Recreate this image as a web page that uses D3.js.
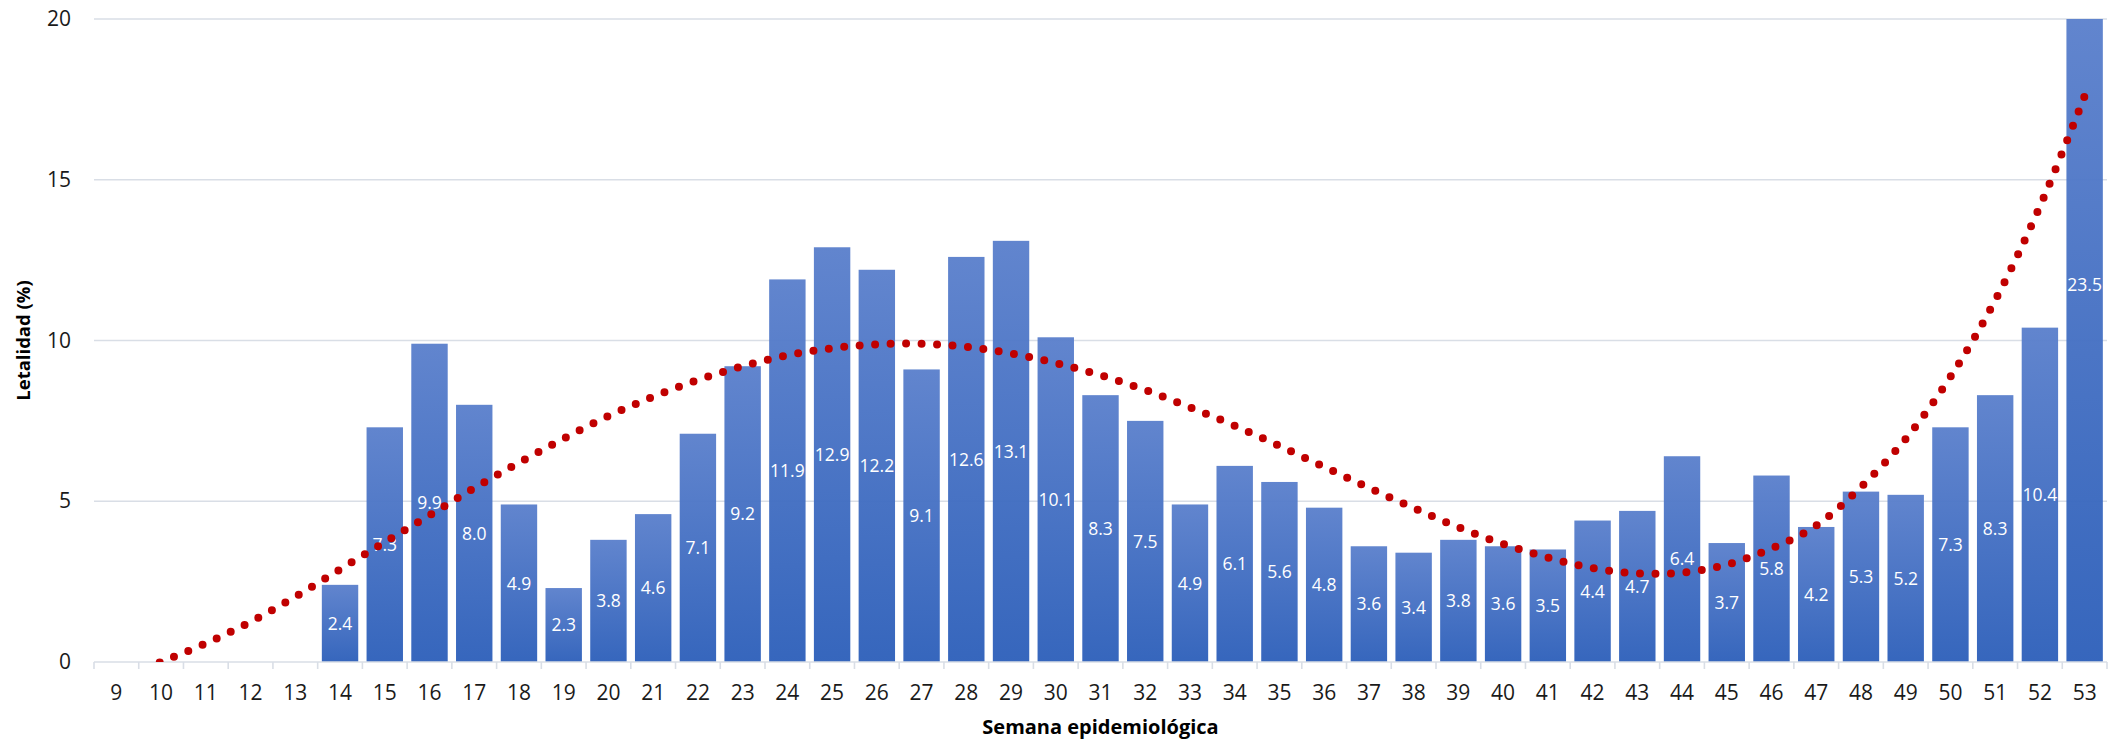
<!DOCTYPE html>
<html>
<head>
<meta charset="utf-8">
<script src="https://cdn.jsdelivr.net/npm/d3@7"></script>
<style>
  html, body { margin: 0; padding: 0; background: #fff; }
  svg { display: block; }
  text { font-family: "Open Sans", "Noto Sans", sans-serif; }
</style>
</head>
<body>
<svg id="chart" width="2111" height="742"></svg>
<script>
// ---------- data ----------
const weeks = ["9","10","11","12","13","14","15","16","17","18","19","20","21","22","23","24","25","26","27","28","29","30","31","32","33","34","35","36","37","38","39","40","41","42","43","44","45","46","47","48","49","50","51","52","53"];
const letalidad = [null,null,null,null,null,2.4,7.3,9.9,8.0,4.9,2.3,3.8,4.6,7.1,9.2,11.9,12.9,12.2,9.1,12.6,13.1,10.1,8.3,7.5,4.9,6.1,5.6,4.8,3.6,3.4,3.8,3.6,3.5,4.4,4.7,6.4,3.7,5.8,4.2,5.3,5.2,7.3,8.3,10.4,23.5];
const tendencia = [-0.55,0.0,0.58,1.25,2.03,2.88,3.73,4.56,5.41,6.2,6.95,7.65,8.25,8.77,9.2,9.54,9.76,9.88,9.9,9.8,9.6,9.3,8.92,8.46,7.92,7.35,6.72,6.07,5.42,4.79,4.19,3.67,3.25,2.92,2.76,2.78,3.03,3.53,4.24,5.44,6.94,8.87,11.25,14.17,17.6];
const yTicks = [0,5,10,15,20];
const yTitle = "Letalidad (%)";
const xTitle = "Semana epidemiológica";

// ---------- layout ----------
const W = 2111, H = 742;
const m = {left: 94, right: 4, top: 19, bottom: 80};
const iw = W - m.left - m.right, ih = H - m.top - m.bottom;

const svg = d3.select("#chart");
const defs = svg.append("defs");
const grad = defs.append("linearGradient").attr("id","barGrad")
  .attr("x1",0).attr("y1",0).attr("x2",0).attr("y2",1);
grad.append("stop").attr("offset","0%").attr("stop-color","#5B80CC");
grad.append("stop").attr("offset","100%").attr("stop-color","#2E60BA");
defs.append("clipPath").attr("id","plotClip").append("rect")
  .attr("x",0).attr("y",0).attr("width",iw).attr("height",ih);

const g = svg.append("g").attr("transform",`translate(${m.left},${m.top})`);

const x = d3.scaleBand().domain(weeks).range([0, iw]).paddingInner(0.186).paddingOuter(0.093);
const y = d3.scaleLinear().domain([0, 20]).range([ih, 0]);

// gridlines
g.append("g").selectAll("line").data(yTicks.filter(d => d > 0)).join("line")
  .attr("x1",0).attr("x2",iw)
  .attr("y1",d => y(d)).attr("y2",d => y(d))
  .attr("stroke","#D9DEE6").attr("stroke-width",1.6);

// bars
const barData = weeks.map((w,i) => ({w, v: letalidad[i]})).filter(d => d.v != null);
g.append("g").selectAll("rect").data(barData).join("rect")
  .attr("x", d => x(d.w))
  .attr("width", x.bandwidth())
  .attr("y", d => y(Math.min(d.v, 20)))
  .attr("height", d => y(0) - y(Math.min(d.v, 20)))
  .attr("fill","url(#barGrad)")
  .attr("fill-opacity",0.96);

// x axis line and boundary ticks
const step = x.step();
g.append("line").attr("x1",0).attr("x2",iw).attr("y1",ih).attr("y2",ih)
  .attr("stroke","#D9DEE6").attr("stroke-width",1.6);
g.append("g").selectAll("line").data(d3.range(weeks.length + 1)).join("line")
  .attr("x1", i => i * step).attr("x2", i => i * step)
  .attr("y1", ih).attr("y2", ih + 7)
  .attr("stroke","#D9DEE6").attr("stroke-width",1.6);

// x axis labels
const xAxis = g.append("g").attr("transform",`translate(0,${ih})`)
  .call(d3.axisBottom(x).tickSize(0).tickPadding(23));
xAxis.select(".domain").remove();
xAxis.selectAll("text").attr("font-size",21).attr("fill","#1a1a1a")
  .style("font-family",'"Open Sans", sans-serif');

// y axis labels
const yAxis = g.append("g")
  .call(d3.axisLeft(y).tickValues(yTicks).tickSize(0).tickPadding(23));
yAxis.select(".domain").remove();
yAxis.selectAll("text").attr("font-size",21).attr("fill","#1a1a1a")
  .style("font-family",'"Open Sans", sans-serif');

// data labels
g.append("g").selectAll("text").data(barData).join("text")
  .attr("x", d => x(d.w) + x.bandwidth()/2)
  .attr("y", d => y(d.v/2))
  .attr("dy","0.36em")
  .attr("text-anchor","middle")
  .attr("font-size",17.5)
  .attr("fill","#ffffff")
  .text(d => d3.format(".1f")(d.v));

// trendline (dotted)
const line = d3.line()
  .x((d,i) => x(weeks[i]) + x.bandwidth()/2)
  .y(d => y(d))
  .curve(d3.curveCatmullRom.alpha(0.5));
g.append("path").datum(tendencia)
  .attr("clip-path","url(#plotClip)")
  .attr("d", line)
  .attr("fill","none")
  .attr("stroke","#C00000")
  .attr("stroke-width",8)
  .attr("stroke-linecap","round")
  .attr("stroke-dasharray","0 15.5");

// axis titles
svg.append("text")
  .attr("x", m.left + iw/2).attr("y", 727).attr("dy","0.35em")
  .attr("text-anchor","middle").attr("font-size",20).attr("font-weight","bold")
  .attr("fill","#000").text(xTitle);
svg.append("text")
  .attr("transform",`translate(24,${m.top + ih/2}) rotate(-90)`)
  .attr("dy","0.35em")
  .attr("text-anchor","middle").attr("font-size",18.5).attr("font-weight","bold")
  .attr("fill","#000").text(yTitle);
</script>
</body>
</html>
